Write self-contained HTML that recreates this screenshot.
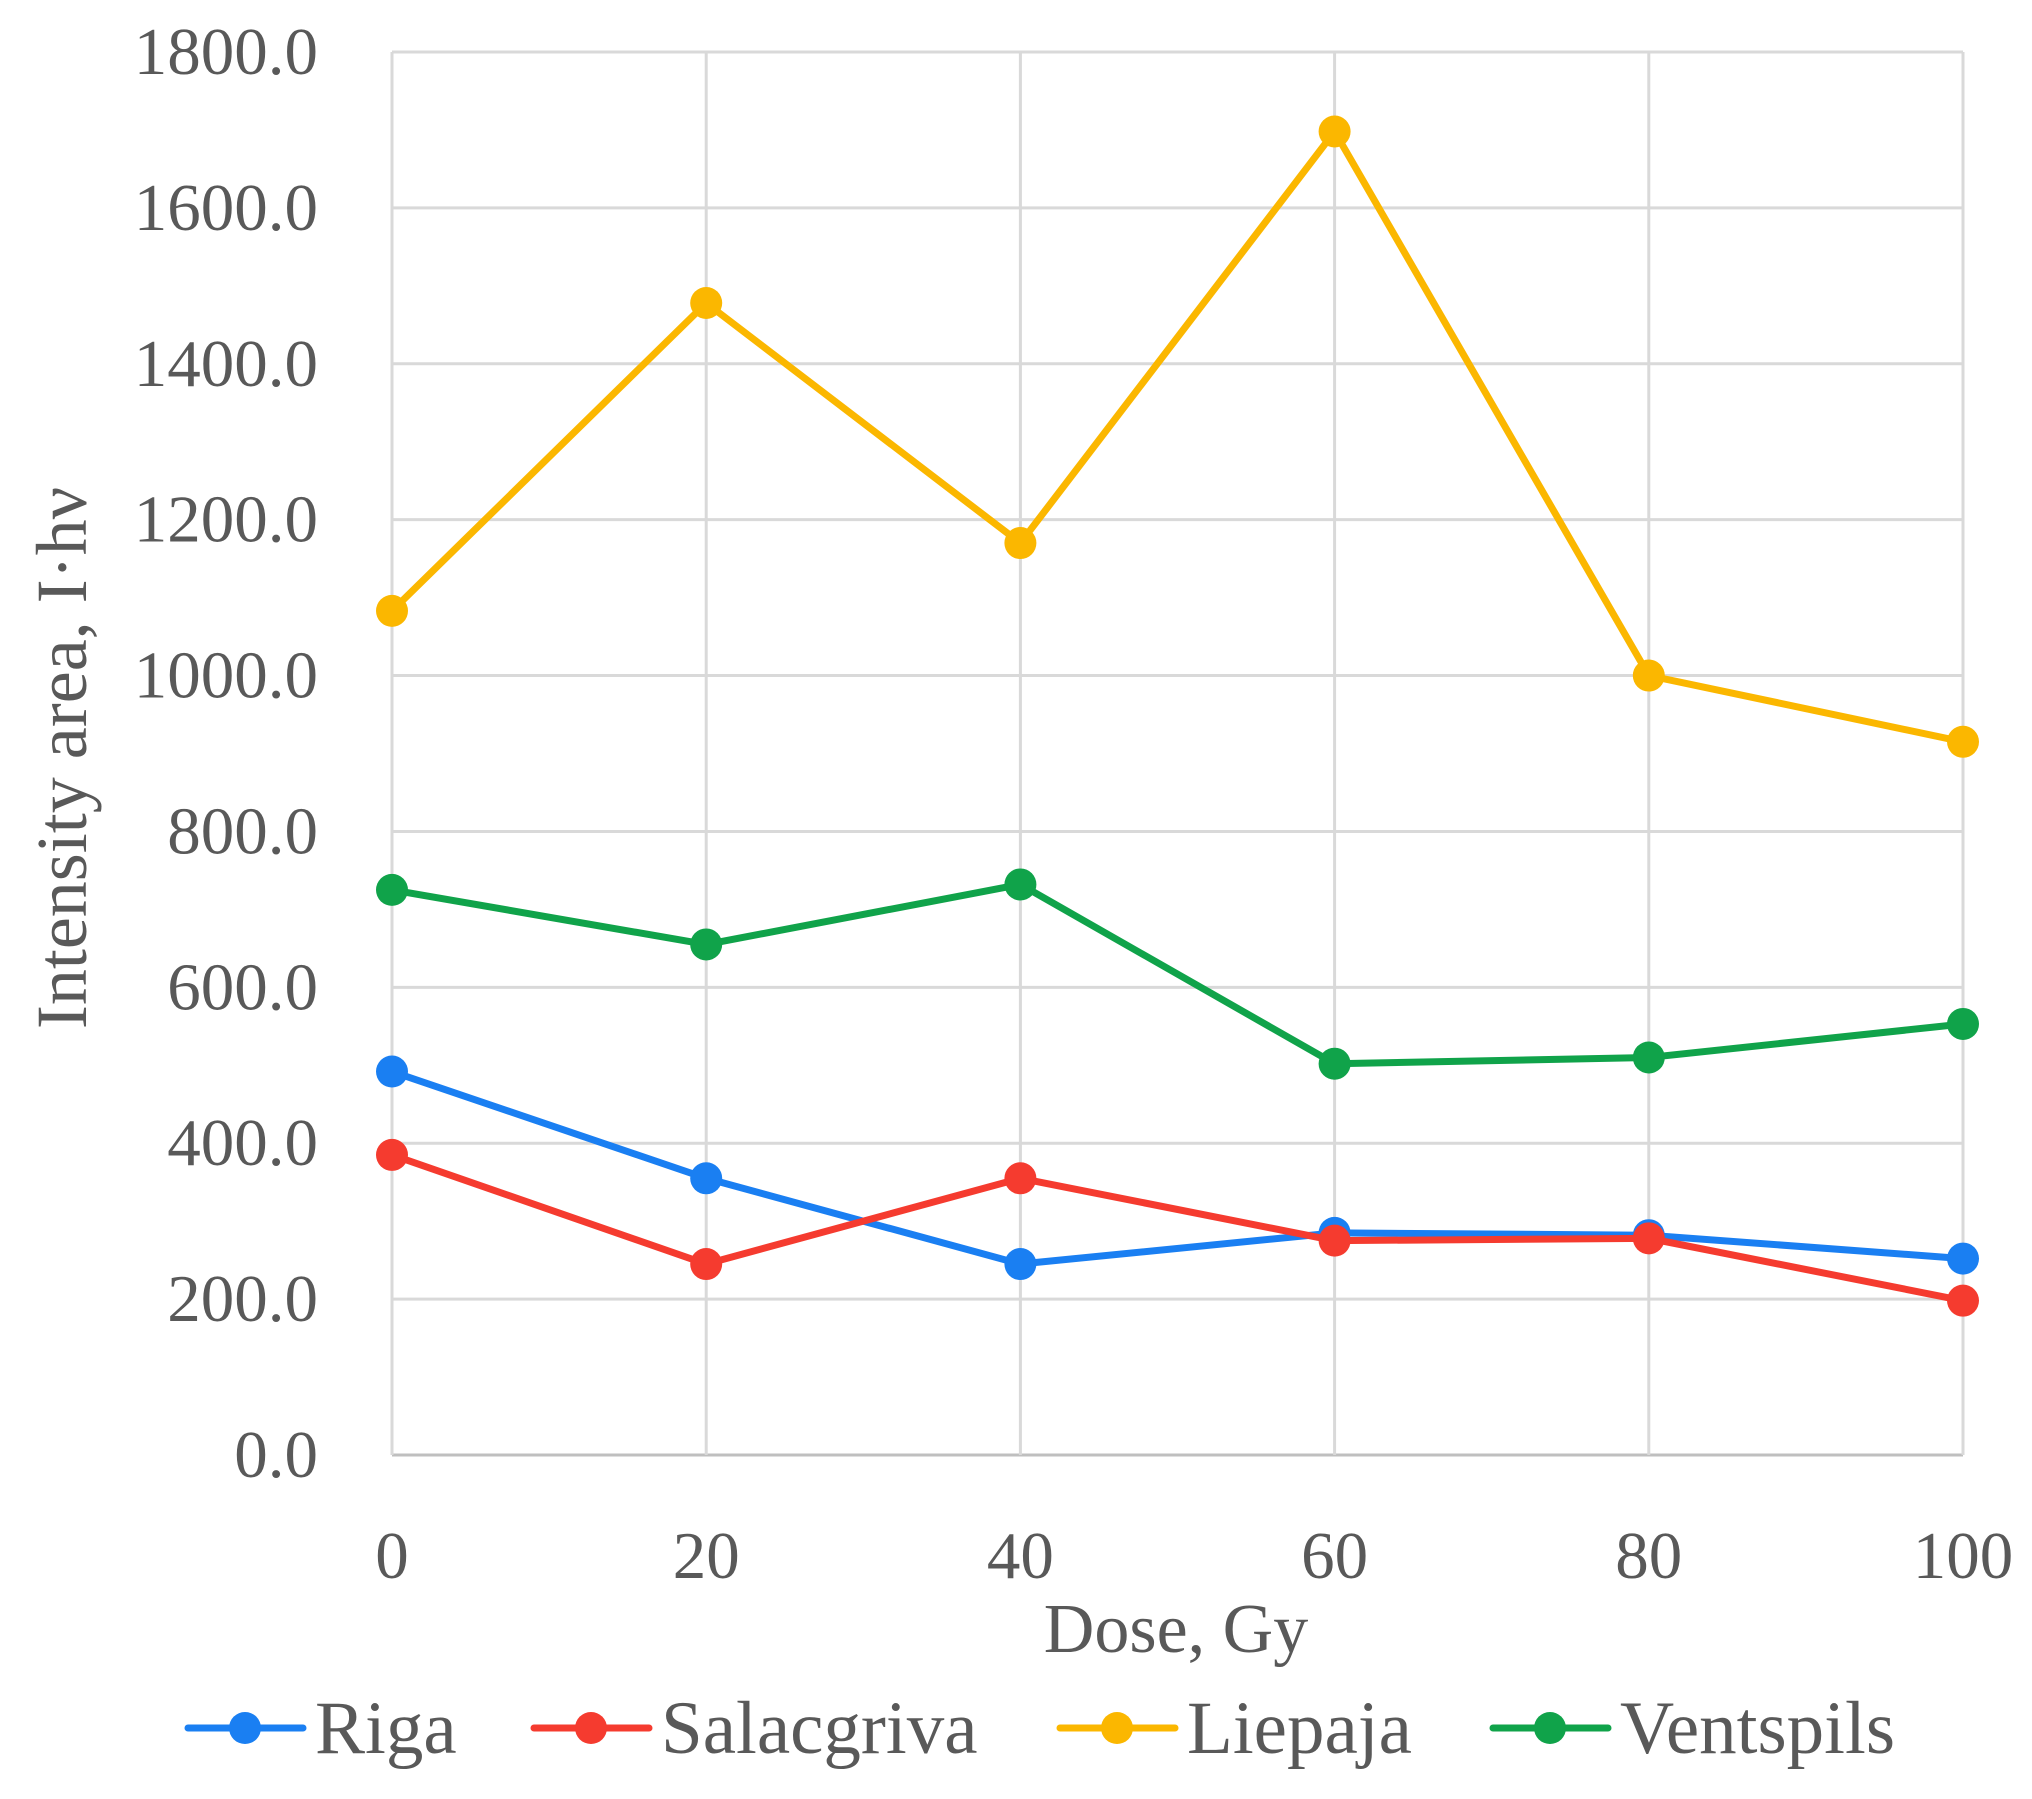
<!DOCTYPE html>
<html><head><meta charset="utf-8"><style>
html,body{margin:0;padding:0;background:#fff;}
svg{display:block;font-family:"Liberation Serif",serif;}
</style></head><body>
<svg id="chart" width="2032" height="1799" viewBox="0 0 2032 1799"></svg>
<script>
const categories = [0, 20, 40, 60, 80, 100];
const yTicks = [0, 200, 400, 600, 800, 1000, 1200, 1400, 1600, 1800];
const yTickLabels = ["0.0","200.0","400.0","600.0","800.0","1000.0","1200.0","1400.0","1600.0","1800.0"];
const rigaValues = [492, 355, 245, 285, 282, 252];
const salacgrivaValues = [385, 245, 355, 275, 278, 198];
const liepajaValues = [1083, 1478, 1170, 1698, 1000, 915];
const ventspilsValues = [725, 655, 732, 502, 510, 553];
const seriesNames = ["Riga", "Salacgriva", "Liepaja", "Ventspils"];

const svg = document.getElementById('chart');
const NS = 'http://www.w3.org/2000/svg';
const X0 = 392, X1 = 1963, Y0 = 1455, Y1 = 52;
const xScale = v => X0 + (v - 0) / (100 - 0) * (X1 - X0);
const yScale = v => Y0 - v / 1800 * (Y0 - Y1);
function mk(tag, attrs) { const e = document.createElementNS(NS, tag); for (const k in attrs) e.setAttribute(k, attrs[k]); svg.appendChild(e); return e; }

yTicks.forEach((t, i) => {
  const y = yScale(t);
  const g = mk('line', {x1: X0, x2: X1, y1: y, y2: y, stroke: t === 0 ? '#bfbfbf' : '#d9d9d9', 'stroke-width': 3});
  
  
  const tx = mk('text', {x: 318, y: y + 22, 'text-anchor': 'end', 'font-size': 67, fill: '#595959'});
  tx.textContent = yTickLabels[i];
  
  
});
categories.forEach(c => {
  const x = xScale(c);
  const g = mk('line', {x1: x, x2: x, y1: Y1, y2: Y0, stroke: '#d9d9d9', 'stroke-width': 3});
  
  
  const tx = mk('text', {x: x, y: 1578, 'text-anchor': 'middle', 'font-size': 67, fill: '#595959'});
  tx.textContent = String(c);
  
  
});
const ax = mk('line', {x1: X0, x2: X0, y1: Y1, y2: Y0, stroke: '#d9d9d9', 'stroke-width': 3});



const xt = mk('text', {x: 1176, y: 1652, 'text-anchor': 'middle', 'font-size': 70, fill: '#595959'});
xt.textContent = 'Dose, Gy';


const yt = mk('text', {x: 0, y: 0, 'text-anchor': 'middle', 'font-size': 72, fill: '#595959', transform: 'translate(86,758) rotate(-90)'});
yt.textContent = 'Intensity area, I·hν';



const allSeries = [rigaValues, salacgrivaValues, liepajaValues, ventspilsValues];
const colors = ['#1a7ff2', '#f53b2f', '#fbb700', '#10a34a'];
const drawOrder = [2, 3, 0, 1];
drawOrder.forEach(si => {
  const vals = allSeries[si];
  const pts = vals.map((v, i) => xScale(categories[i]) + ',' + yScale(v)).join(' ');
  const pl = mk('polyline', {points: pts, fill: 'none', stroke: colors[si], 'stroke-width': 7, 'stroke-linejoin': 'round'});
  
  
  vals.forEach((v, i) => {
    const c = mk('circle', {cx: xScale(categories[i]), cy: yScale(v), r: 16, fill: colors[si]});
    
    
  });
});

const legendX = [188, 534, 1060, 1493];
seriesNames.forEach((n, i) => {
  const lx = legendX[i], ly = 1728;
  const l = mk('line', {x1: lx, x2: lx + 115, y1: ly, y2: ly, stroke: colors[i], 'stroke-width': 7, 'stroke-linecap': 'round'});
  
  
  const c = mk('circle', {cx: lx + 57, cy: ly, r: 16, fill: colors[i]});
  
  
  const t = mk('text', {x: lx + 127, y: ly + 25, 'font-size': 75, fill: '#595959'});
  t.textContent = n;
  
  
});
</script>
</body></html>
